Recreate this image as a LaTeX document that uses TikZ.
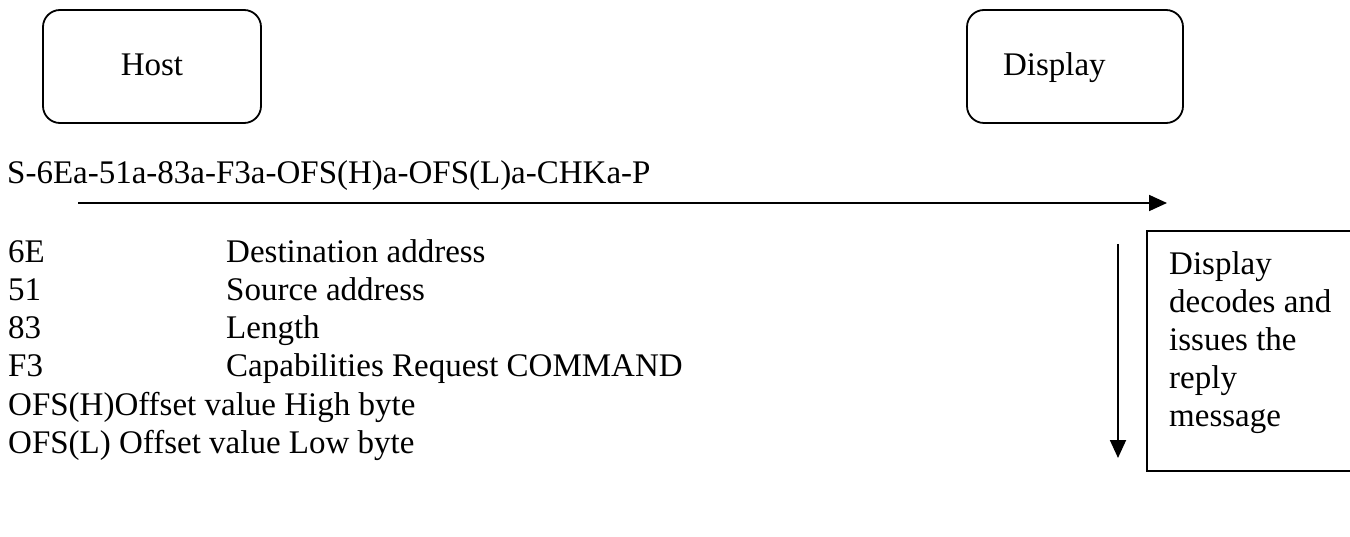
\documentclass[tikz,border=0pt]{standalone}
\usepackage{fontspec}
\setmainfont{Liberation Serif}
\usetikzlibrary{arrows.meta,positioning,calc}

\begin{document}
\begin{tikzpicture}[
    x=1pt, y=-1pt,
    every node/.style={font=\fontsize{33}{38}\selectfont},
    rbox/.style={draw,rounded corners=17pt,line width=1.8pt,minimum width=218pt,minimum height=113pt,text height=22pt,text depth=4pt},
    txt/.style={anchor=base west,inner sep=0pt},
    msg/.style={-{Triangle[length=18pt,width=16pt]},line width=1.8pt}
]
\useasboundingbox (0,0) rectangle (1350,537);
\node[rbox] (host) at (152,66.5) {Host};
\node[rbox,minimum width=216pt,text width=144pt,inner xsep=36pt,align=left] (display) at (1075,66.5) {Display};
\node[txt] (frame) at (7,184) {S-6Ea-51a-83a-F3a-OFS(H)a-OFS(L)a-CHKa-P};
\coordinate (send) at (78,203);
\coordinate (recv) at (1167,203);
\draw[msg] (send) -- (recv);
\node[txt] (dstkey) at (8,263) {6E};
\node[txt] (dstval) at (226,263) {Destination address};
\node[txt] (srckey) at (8,301) {51};
\node[txt] (srcval) at (226,301) {Source address};
\node[txt] (lenkey) at (8,339) {83};
\node[txt] (lenval) at (226,339) {Length};
\node[txt] (cmdkey) at (8,377) {F3};
\node[txt] (cmdval) at (226,377) {Capabilities Request COMMAND};
\node[txt] (ofsh) at (8,415) {OFS(H)Offset value High byte};
\node[txt] (ofsl) at (8,453) {OFS(L) Offset value Low byte};
\coordinate (decode) at (1118,244);
\coordinate (reply) at (1118,458);
\draw[msg] (decode) -- (reply);
\node[draw,line width=1.8pt,anchor=north west,minimum width=215pt,minimum height=240pt] (replybox) at (1146,230) {};
\node[txt,align=left] (replytext) at ($(replybox.north west)+(23,196)$) {Display\\decodes and\\issues the\\reply\\message};
\end{tikzpicture}
\end{document}
